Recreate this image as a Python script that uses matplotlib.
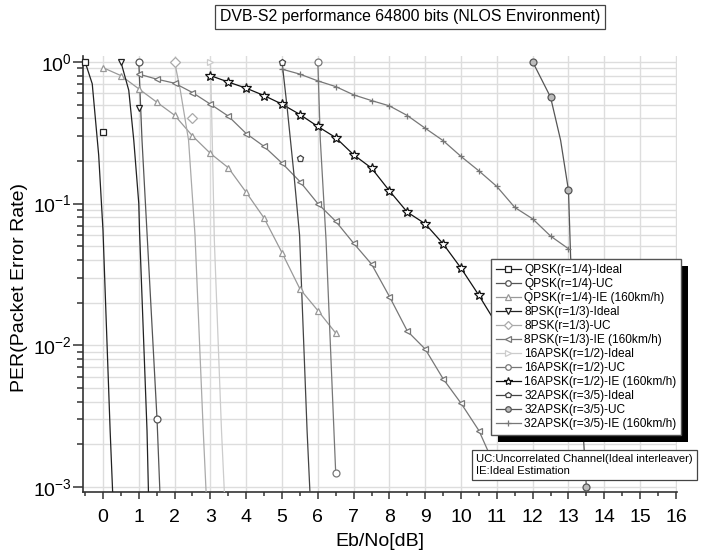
import numpy as np
import matplotlib
matplotlib.use("Agg")
import matplotlib.pyplot as plt
from matplotlib.lines import Line2D
from matplotlib.patches import Rectangle

plt.rcParams['font.family'] = ['Liberation Sans', 'DejaVu Sans']
plt.rcParams['mathtext.fontset'] = 'custom'
plt.rcParams['mathtext.rm'] = 'Liberation Sans'

#series data: marker points, plus the fitted curve points
labels = ["QPSK(r=1/4)-Ideal", "QPSK(r=1/4)-UC", "QPSK(r=1/4)-IE (160km/h)",
          "8PSK(r=1/3)-Ideal", "8PSK(r=1/3)-UC", "8PSK(r=1/3)-IE (160km/h)",
          "16APSK(r=1/2)-Ideal", "16APSK(r=1/2)-UC", "16APSK(r=1/2)-IE (160km/h)",
          "32APSK(r=3/5)-Ideal", "32APSK(r=3/5)-UC", "32APSK(r=3/5)-IE (160km/h)"]

#QPSK ideal
qpsk_id_mx = [-0.5, 0.0]
qpsk_id_my = [1.0, 0.32]
qpsk_id_cx = [-0.5, -0.3, -0.12, 0.0, 0.2, 0.27]
qpsk_id_cy = [1.0, 0.7, 0.22, 0.065, 0.0025, 0.00092]

#QPSK UC
qpsk_uc_mx = [1.0, 1.5]
qpsk_uc_my = [1.0, 0.003]
qpsk_uc_cx = [1.0, 1.09, 1.23, 1.51, 1.59]
qpsk_uc_cy = [1.0, 0.28, 0.062, 0.003, 0.00092]

#QPSK IE
qpsk_ie_x = [0.0, 0.5, 1.0, 1.5, 2.0, 2.5, 3.0, 3.5, 4.0, 4.5, 5.0, 5.5, 6.0, 6.5]
qpsk_ie_y = [0.91, 0.80, 0.645, 0.52, 0.42, 0.30, 0.226, 0.179, 0.12, 0.079,
             0.045, 0.025, 0.0176, 0.0122]

#8PSK ideal
psk8_id_mx = [0.5, 1.0]
psk8_id_my = [1.0, 0.47]
psk8_id_cx = [0.5, 0.72, 0.86, 1.0, 1.02, 1.23, 1.27]
psk8_id_cy = [1.0, 0.63, 0.28, 0.1, 0.065, 0.0025, 0.00092]

#8PSK UC
psk8_uc_mx = [2.0, 2.5]
psk8_uc_my = [1.0, 0.40]
psk8_uc_cx = [2.0, 2.16, 2.39, 2.57, 2.80, 2.88]
psk8_uc_cy = [1.0, 0.63, 0.28, 0.06, 0.0025, 0.00092]

#8PSK IE
psk8_ie_x = [1.0, 1.5, 2.0, 2.5, 3.0, 3.5, 4.0, 4.5, 5.0, 5.5, 6.0, 6.5, 7.0,
             7.5, 8.0, 8.5, 9.0, 9.5, 10.0, 10.5, 11.0]
psk8_ie_y = [0.82, 0.755, 0.707, 0.607, 0.503, 0.414, 0.312, 0.253, 0.193,
             0.143, 0.100, 0.075, 0.0525, 0.0374, 0.0221, 0.0126, 0.0094,
             0.0058, 0.0039, 0.0025, 0.0013]

#16APSK ideal
apsk16_id_mx = [3.0]
apsk16_id_my = [1.0]
apsk16_id_cx = [3.0, 3.05, 3.11, 3.31, 3.39]
apsk16_id_cy = [1.0, 0.3, 0.055, 0.0025, 0.00092]

#16APSK UC
apsk16_uc_mx = [6.0, 6.5]
apsk16_uc_my = [1.0, 0.00125]
apsk16_uc_cx = [6.0, 6.07, 6.23, 6.45, 6.5]
apsk16_uc_cy = [1.0, 0.28, 0.055, 0.0025, 0.00125]

#16APSK IE
apsk16_ie_x = [3.0, 3.5, 4.0, 4.5, 5.0, 5.5, 6.0, 6.5, 7.0, 7.5, 8.0, 8.5, 9.0,
               9.5, 10.0, 10.5, 11.0, 11.5]
apsk16_ie_y = [0.80, 0.72, 0.652, 0.578, 0.503, 0.425, 0.350, 0.292, 0.221,
               0.178, 0.123, 0.087, 0.072, 0.052, 0.035, 0.0225, 0.014, 0.009]

#32APSK ideal
apsk32_id_mx = [5.0, 5.5]
apsk32_id_my = [1.0, 0.21]
apsk32_id_cx = [5.0, 5.14, 5.33, 5.49, 5.70, 5.78]
apsk32_id_cy = [1.0, 0.484, 0.164, 0.06, 0.0025, 0.00092]

#32APSK UC
apsk32_uc_mx = [12.0, 12.5, 13.0, 13.5]
apsk32_uc_my = [1.0, 0.563, 0.124, 0.001]
apsk32_uc_cx = [12.0, 12.5, 12.78, 13.0, 13.06, 13.43, 13.5]
apsk32_uc_cy = [1.0, 0.563, 0.28, 0.124, 0.042, 0.002, 0.001]

#32APSK IE
apsk32_ie_x = [5.0, 5.5, 6.0, 6.5, 7.0, 7.5, 8.0, 8.5, 9.0, 9.5, 10.0, 10.5,
               11.0, 11.5, 12.0, 12.5, 13.0]
apsk32_ie_y = [0.888, 0.819, 0.734, 0.669, 0.585, 0.533, 0.489, 0.418, 0.340,
               0.278, 0.215, 0.170, 0.132, 0.094, 0.078, 0.059, 0.048]

#--plotting--
fig = plt.figure(figsize=(7.04, 5.57), dpi=100)
ax = fig.add_axes([0.1183, 0.1167, 0.8433, 0.7828])
ax.set_yscale("log")

#style per series: color, marker, marker face
styles = [("#222222", "s", "white"), ("#555555", "o", "white"), ("#999999", "^", "white"),
          ("#222222", "v", "white"), ("#aaaaaa", "D", "white"), ("#777777", "<", "white"),
          ("#cccccc", ">", "white"), ("#777777", "o", "white"), ("#111111", "*", "white"),
          ("#444444", "p", "white"), ("#555555", "o", "#bbbbbb"), ("#777777", "+", "white")]

curves = [(qpsk_id_cx, qpsk_id_cy, qpsk_id_mx, qpsk_id_my),
          (qpsk_uc_cx, qpsk_uc_cy, qpsk_uc_mx, qpsk_uc_my),
          (qpsk_ie_x, qpsk_ie_y, qpsk_ie_x, qpsk_ie_y),
          (psk8_id_cx, psk8_id_cy, psk8_id_mx, psk8_id_my),
          (psk8_uc_cx, psk8_uc_cy, psk8_uc_mx, psk8_uc_my),
          (psk8_ie_x, psk8_ie_y, psk8_ie_x, psk8_ie_y),
          (apsk16_id_cx, apsk16_id_cy, apsk16_id_mx, apsk16_id_my),
          (apsk16_uc_cx, apsk16_uc_cy, apsk16_uc_mx, apsk16_uc_my),
          (apsk16_ie_x, apsk16_ie_y, apsk16_ie_x, apsk16_ie_y),
          (apsk32_id_cx, apsk32_id_cy, apsk32_id_mx, apsk32_id_my),
          (apsk32_uc_cx, apsk32_uc_cy, apsk32_uc_mx, apsk32_uc_my),
          (apsk32_ie_x, apsk32_ie_y, apsk32_ie_x, apsk32_ie_y)]

handles = []
for (cx, cy, mx, my), (col, mk, fc) in zip(curves, styles):
    ms = 7 if mk == "*" else 5
    ax.plot(cx, cy, color=col, linewidth=0.9, zorder=3)
    ax.plot(mx, my, linestyle="none", marker=mk, markersize=ms, markeredgecolor=col,
            markerfacecolor=fc, markeredgewidth=0.9, zorder=4, clip_on=False)
    handles.append(Line2D([], [], color=col, linewidth=0.9, marker=mk, markersize=ms - 1,
                          markeredgecolor=col, markerfacecolor=fc, markeredgewidth=0.9))

ax.set_xlim(-0.55, 16.03)
ax.set_ylim(0.000923, 1.10)
ax.set_xticks(np.arange(0, 17, 1))
ax.set_xticks(np.arange(-0.5, 16.5, 1), minor=True)
ax.grid(True, which="major", axis="x", color="#dddddd", linewidth=1.0)
ax.grid(True, which="both", axis="y", color="#dddddd", linewidth=1.0)
ax.set_axisbelow(True)
for s in ["top", "right"]:
    ax.spines[s].set_visible(False)
for s in ["left", "bottom"]:
    ax.spines[s].set_color("#333333")
    ax.spines[s].set_linewidth(1.2)
ax.tick_params(axis="both", which="major", labelsize=14, color="#333333", width=1.1)
ax.tick_params(axis="y", which="major", length=7, pad=1)
ax.tick_params(axis="y", which="minor", length=4, color="#333333", width=1.1)
ax.tick_params(axis="x", which="major", length=5, pad=7)
ax.tick_params(axis="x", which="minor", length=3, color="#333333", width=1.1)
ax.tick_params(axis="y", which="minor", labelleft=False)

ax.set_xlabel("Eb/No[dB]", fontsize=14, labelpad=5)
ax.set_ylabel("PER(Packet Error Rate)", fontsize=14)
ax.yaxis.set_label_coords(-0.093, 0.47)

#title in a box
fig.text(410/704, 1 - 17/557, "DVB-S2 performance 64800 bits (NLOS Environment)",
         ha="center", va="center", fontsize=11.4,
         bbox=dict(boxstyle="square,pad=0.3", facecolor="white", edgecolor="#444444", linewidth=0.9))

#legend with a solid shadow
leg = fig.legend(handles, labels, loc="upper left", bbox_to_anchor=(491/704, 1 - 259/557),
                 fontsize=8.6, frameon=True, fancybox=False, framealpha=1, edgecolor="#555555",
                 handlelength=2.1, handletextpad=0.3, labelspacing=0.17, borderpad=0.4,
                 borderaxespad=0)
leg.get_frame().set_linewidth(1.0)
leg.set_zorder(6)
fig.canvas.draw()
bb = leg.get_window_extent().transformed(fig.transFigure.inverted())
dx, dy = 7/704, 7/557
shadow = Rectangle((bb.x0 + dx, bb.y0 - dy), bb.width, bb.height, transform=fig.transFigure,
                   facecolor="black", edgecolor="none", zorder=5)
fig.add_artist(shadow)

#note box
fig.text(476/704, 1 - 465/557, "UC:Uncorrelated Channel(Ideal interleaver)\nIE:Ideal Estimation",
         ha="left", va="center", fontsize=8.1, linespacing=1.25, zorder=7,
         bbox=dict(boxstyle="square,pad=0.35", facecolor="white", edgecolor="#444444", linewidth=0.9))

fig.savefig("out.png", dpi=100)
